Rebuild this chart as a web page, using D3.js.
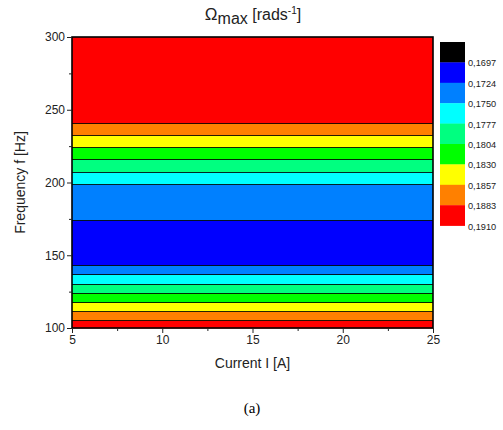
<!DOCTYPE html>
<html>
<head>
<meta charset="utf-8">
<script src="https://cdn.jsdelivr.net/npm/d3@7"></script>
<style>
  body { margin: 0; background: #fff; }
  text { font-family: "Liberation Sans", Arial, sans-serif; }
</style>
</head>
<body>
<div class="chart"></div>
<script>
// frequency points (Hz) and Omega_max (value only depends on f)
var freq  = [100, 105.3, 111.5, 117.6, 124.3, 130.4, 136.8, 143.5, 158, 173.9, 198.8, 207.5, 215.9, 224.4, 232.6, 240.9, 300];
var omega = [0.1898, 0.1883, 0.1857, 0.1830, 0.1804, 0.1777, 0.1750, 0.1724, 0.1705, 0.1724, 0.1750, 0.1777, 0.1804, 0.1830, 0.1857, 0.1883, 0.1960];
var current = [5, 25];

// contour levels and colours (legend from top to bottom)
var levels = [0.1697, 0.1724, 0.1750, 0.1777, 0.1804, 0.1830, 0.1857, 0.1883, 0.1910];
var levelLabels = ["0,1697", "0,1724", "0,1750", "0,1777", "0,1804", "0,1830", "0,1857", "0,1883", "0,1910"];
var colors = ["#000000", "#0000ff", "#0080ff", "#00ffff", "#00ff80", "#00ff00", "#ffff00", "#ff8000", "#ff0000"];

var xTicks = [5, 10, 15, 20, 25];
var yTicks = [100, 150, 200, 250, 300];

var W = 503, H = 430;
var margin = { top: 37, right: 70, bottom: 102, left: 72 },
    width = 433 - margin.left,
    height = 328 - margin.top;

var svg = d3.select(".chart")
    .append("svg")
    .attr("width", W)
    .attr("height", H);

var g = svg.append("g")
    .attr("transform", "translate(" + margin.left + "," + margin.top + ")");

var x = d3.scaleLinear().domain(d3.extent(current)).range([0, width]);
var y = d3.scaleLinear().domain([100, 300]).range([height, 0]);

// colour for a value: band index among the levels
function bandColor(v) {
    var i = d3.bisectRight(levels, v);
    return colors[Math.min(i, colors.length - 1)];
}

// bands between consecutive frequency points
var bands = d3.pairs(d3.zip(freq, omega)).map(function (p) {
    return { f0: p[0][0], f1: p[1][0], v: (p[0][1] + p[1][1]) / 2 };
});

g.selectAll("rect.band")
    .data(bands)
    .enter()
    .append("rect")
    .attr("class", "band")
    .attr("x", x(current[0]))
    .attr("width", x(current[1]) - x(current[0]))
    .attr("y", function (d) { return y(d.f1); })
    .attr("height", function (d) { return y(d.f0) - y(d.f1) + 0.5; })
    .attr("fill", function (d) { return bandColor(d.v); });

// contour lines where the value crosses a level
var lines = freq.filter(function (f, i) {
    return i > 0 && i < freq.length - 1 && levels.indexOf(omega[i]) >= 0;
});
g.selectAll("line.contour")
    .data(lines)
    .enter()
    .append("line")
    .attr("class", "contour")
    .attr("x1", 0).attr("x2", width)
    .attr("y1", function (d) { return Math.round(y(d)) + 0.5; })
    .attr("y2", function (d) { return Math.round(y(d)) + 0.5; })
    .attr("stroke", "#000")
    .attr("stroke-opacity", 0.85)
    .attr("stroke-width", 1.2);

// frame
g.append("rect")
    .attr("width", width).attr("height", height)
    .attr("fill", "none")
    .attr("stroke", "#000")
    .attr("stroke-width", 1.6);

// axes
g.append("g")
    .attr("transform", "translate(0," + height + ")")
    .call(d3.axisBottom(x).tickValues(xTicks).tickSize(5).tickPadding(2).tickFormat(d3.format("d")));
g.append("g")
    .attr("transform", "translate(0," + height + ")")
    .call(d3.axisBottom(x).tickValues([7.5, 12.5, 17.5, 22.5]).tickSize(3).tickFormat(""));

g.append("g")
    .call(d3.axisLeft(y).tickValues(yTicks).tickSize(5).tickPadding(2).tickFormat(d3.format("d")));
g.append("g")
    .call(d3.axisLeft(y).tickValues([125, 175, 225, 275]).tickSize(3).tickFormat(""));

g.selectAll(".domain").remove();
g.selectAll(".tick line").attr("stroke", "#222").attr("stroke-width", 1);
g.selectAll(".tick text")
    .attr("font-size", 12)
    .attr("fill", "#222")
    .style("font-family", "'Liberation Sans', Arial, sans-serif");

// axis titles
svg.append("text")
    .attr("x", margin.left + width / 2)
    .attr("y", 368)
    .attr("text-anchor", "middle")
    .attr("font-size", 14)
    .attr("fill", "#222")
    .text("Current I [A]");

svg.append("text")
    .attr("transform", "translate(25," + (margin.top + height / 2) + ") rotate(-90)")
    .attr("text-anchor", "middle")
    .attr("font-size", 14)
    .attr("fill", "#222")
    .text("Frequency f [Hz]");

// title
var title = svg.append("text")
    .attr("x", 253)
    .attr("y", 20)
    .attr("text-anchor", "middle")
    .attr("font-size", 16)
    .attr("fill", "#222");
title.append("tspan").attr("font-size", 17).text("\u03A9");
title.append("tspan").attr("dy", 4).attr("font-size", 16).text("max");
title.append("tspan").attr("dy", -4).text(" [rads");
title.append("tspan").attr("dy", -6).attr("font-size", 10).text("-1");
title.append("tspan").attr("dy", 6).text("]");

// legend
var lx = 440, ly = 42, lw = 25, lh = 20.4;
var legend = svg.append("g");
legend.selectAll("rect")
    .data(colors)
    .enter()
    .append("rect")
    .attr("x", lx)
    .attr("y", function (d, i) { return ly + i * lh; })
    .attr("width", lw)
    .attr("height", lh + 0.3)
    .attr("fill", function (d) { return d; });
legend.selectAll("text")
    .data(levelLabels)
    .enter()
    .append("text")
    .attr("x", lx + lw + 3)
    .attr("y", function (d, i) { return ly + (i + 1) * lh + 4; })
    .attr("font-size", 9.2)
    .attr("fill", "#222")
    .text(function (d) { return d; });

// caption
svg.append("text")
    .attr("x", 252)
    .attr("y", 413)
    .attr("text-anchor", "middle")
    .attr("font-size", 15)
    .style("font-family", "'Liberation Serif', 'Times New Roman', serif")
    .attr("fill", "#000")
    .text("(a)");
</script>
</body>
</html>
